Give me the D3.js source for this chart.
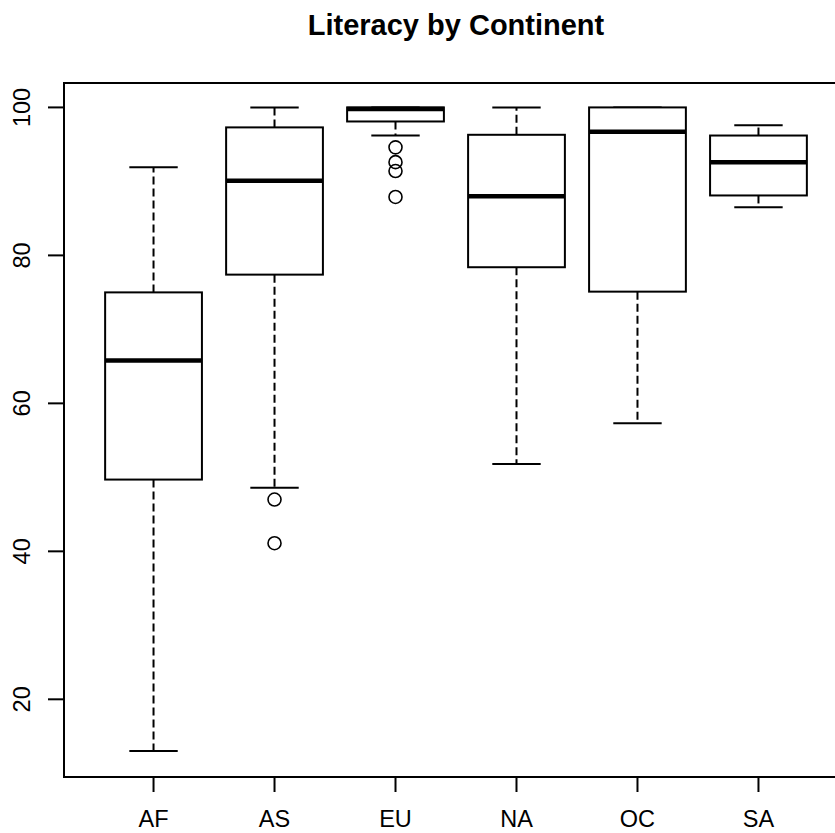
<!DOCTYPE html>
<html lang="en">
<head>
    <meta charset="UTF-8">
    <title>Literacy by Continent</title>
    <script src="https://d3js.org/d3.v7.min.js"></script>
    <style>
        html, body {
            margin: 0;
            padding: 0;
            background: #fff;
        }
        svg {
            display: block;
            font-family: "Liberation Sans", Arial, sans-serif;
        }
        .title {
            font-size: 29px;
            font-weight: bold;
        }
        .tick-label {
            font-size: 23.5px;
        }
    </style>
</head>
<body>
    <svg width="835" height="833"></svg>
    <script>
        // five-number summaries
        const continents = ["AF", "AS", "EU", "NA", "OC", "SA"];
        const lowerWhisker = [13.0, 48.6, 96.2, 51.8, 57.3, 86.5];
        const q1 = [49.7, 77.4, 98.1, 78.4, 75.1, 88.1];
        const median = [65.8, 90.1, 99.8, 88.0, 96.7, 92.6];
        const q3 = [75.0, 97.3, 100, 96.3, 100, 96.2];
        const upperWhisker = [91.9, 100, 100, 100, 100, 97.6];
        const outliers = [
            [],
            [47.0, 41.1],
            [94.6, 92.6, 91.4, 87.9],
            [],
            [],
            []
        ];
        const yTicks = [20, 40, 60, 80, 100];

        const svg = d3.select("svg");

        const plot = {left: 64, top: 83, bottom: 777, right: 848};

        const x = d3.scaleLinear()
            .domain([0.26, continents.length + 0.74])
            .range([plot.left, plot.right]);

        const y = d3.scaleLinear()
            .domain([9.5, 103.3])
            .range([plot.bottom, plot.top]);

        const boxW = 0.4, capW = 0.2;

        // frame
        svg.append("rect")
            .attr("x", plot.left)
            .attr("y", plot.top)
            .attr("width", plot.right - plot.left)
            .attr("height", plot.bottom - plot.top)
            .attr("fill", "none")
            .attr("stroke", "#000")
            .attr("stroke-width", 2);

        // y axis
        const yAxis = svg.append("g");
        yAxis.selectAll("line")
            .data(yTicks)
            .enter()
            .append("line")
            .attr("x1", plot.left - 16)
            .attr("x2", plot.left)
            .attr("y1", d => y(d))
            .attr("y2", d => y(d))
            .attr("stroke", "#000")
            .attr("stroke-width", 2);
        yAxis.selectAll("text")
            .data(yTicks)
            .enter()
            .append("text")
            .attr("class", "tick-label")
            .attr("text-anchor", "middle")
            .attr("transform", d => `translate(30,${y(d)}) rotate(-90)`)
            .text(d => d);

        // x axis
        const xAxis = svg.append("g");
        xAxis.selectAll("line")
            .data(continents)
            .enter()
            .append("line")
            .attr("x1", (d, i) => x(i + 1))
            .attr("x2", (d, i) => x(i + 1))
            .attr("y1", plot.bottom)
            .attr("y2", plot.bottom + 15)
            .attr("stroke", "#000")
            .attr("stroke-width", 2);
        xAxis.selectAll("text")
            .data(continents)
            .enter()
            .append("text")
            .attr("class", "tick-label")
            .attr("text-anchor", "middle")
            .attr("x", (d, i) => x(i + 1))
            .attr("y", 827)
            .text(d => d);

        // boxes
        const boxes = svg.selectAll(".box")
            .data(continents)
            .enter()
            .append("g")
            .attr("class", "box");

        // whiskers (dashed)
        boxes.append("line")
            .attr("x1", (d, i) => x(i + 1))
            .attr("x2", (d, i) => x(i + 1))
            .attr("y1", (d, i) => y(q3[i]))
            .attr("y2", (d, i) => y(upperWhisker[i]))
            .attr("stroke", "#000")
            .attr("stroke-width", 2)
            .attr("stroke-dasharray", "8,4");
        boxes.append("line")
            .attr("x1", (d, i) => x(i + 1))
            .attr("x2", (d, i) => x(i + 1))
            .attr("y1", (d, i) => y(q1[i]))
            .attr("y2", (d, i) => y(lowerWhisker[i]))
            .attr("stroke", "#000")
            .attr("stroke-width", 2)
            .attr("stroke-dasharray", "8,4");

        // staples
        boxes.append("line")
            .attr("x1", (d, i) => x(i + 1 - capW))
            .attr("x2", (d, i) => x(i + 1 + capW))
            .attr("y1", (d, i) => y(upperWhisker[i]))
            .attr("y2", (d, i) => y(upperWhisker[i]))
            .attr("stroke", "#000")
            .attr("stroke-width", 2);
        boxes.append("line")
            .attr("x1", (d, i) => x(i + 1 - capW))
            .attr("x2", (d, i) => x(i + 1 + capW))
            .attr("y1", (d, i) => y(lowerWhisker[i]))
            .attr("y2", (d, i) => y(lowerWhisker[i]))
            .attr("stroke", "#000")
            .attr("stroke-width", 2);

        // box body
        boxes.append("rect")
            .attr("x", (d, i) => x(i + 1 - boxW))
            .attr("width", (d, i) => x(i + 1 + boxW) - x(i + 1 - boxW))
            .attr("y", (d, i) => y(q3[i]))
            .attr("height", (d, i) => y(q1[i]) - y(q3[i]))
            .attr("fill", "#fff")
            .attr("stroke", "#000")
            .attr("stroke-width", 2);

        // median
        boxes.append("line")
            .attr("x1", (d, i) => x(i + 1 - boxW))
            .attr("x2", (d, i) => x(i + 1 + boxW))
            .attr("y1", (d, i) => y(median[i]))
            .attr("y2", (d, i) => y(median[i]))
            .attr("stroke", "#000")
            .attr("stroke-width", 4.5);

        // outliers
        boxes.each(function(d, i) {
            d3.select(this).selectAll("circle")
                .data(outliers[i])
                .enter()
                .append("circle")
                .attr("cx", x(i + 1))
                .attr("cy", v => y(v))
                .attr("r", 6.5)
                .attr("fill", "none")
                .attr("stroke", "#000")
                .attr("stroke-width", 1.6);
        });

        // title
        svg.append("text")
            .attr("class", "title")
            .attr("x", (plot.left + plot.right) / 2)
            .attr("y", 35)
            .attr("text-anchor", "middle")
            .text("Literacy by Continent");
    </script>
</body>
</html>
